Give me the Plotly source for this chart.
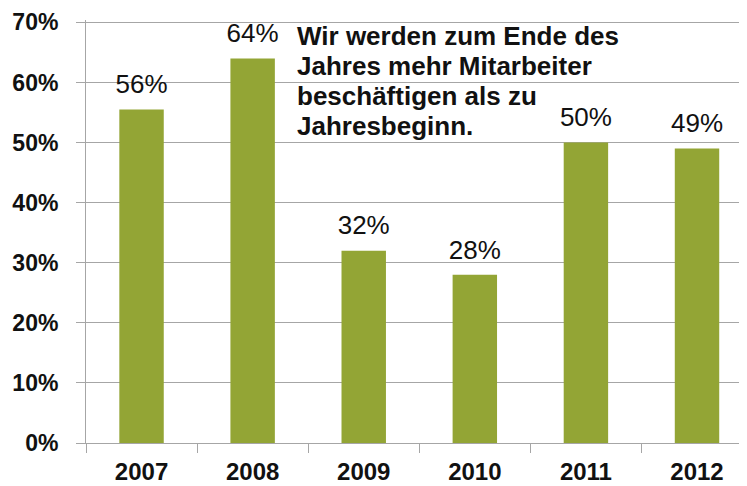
import plotly.graph_objects as go

years = ["2007", "2008", "2009", "2010", "2011", "2012"]
values = [55.5, 64, 32, 28, 50, 49]
labels = ["56%", "64%", "32%", "28%", "50%", "49%"]
y_ticks = [0, 10, 20, 30, 40, 50, 60, 70]
y_tick_text = ["0%", "10%", "20%", "30%", "40%", "50%", "60%", "70%"]
note_lines = ["Wir werden zum Ende des", "Jahres mehr Mitarbeiter",
              "beschäftigen als zu", "Jahresbeginn."]

FONT = "Liberation Sans"
GRID = "#a6a6a6"
fig = go.Figure()
fig.add_trace(go.Bar(x=years, y=values, marker=dict(color="#93A535", line=dict(width=0)),
                     width=0.4, hoverinfo="skip"))
fig.add_trace(go.Scatter(x=years, y=values, mode="markers+text", text=labels,
                         marker=dict(size=14, opacity=0),
                         textposition="top center", cliponaxis=False, hoverinfo="skip",
                         textfont=dict(family=FONT, size=26, color="#111")))

for i, line in enumerate(note_lines):
    fig.add_annotation(xref="paper", yref="paper", x=0.316, y=0.962 - i * 0.071,
                       xanchor="left", yanchor="middle",
                       text="<b>" + line + "</b>", align="left", showarrow=False,
                       font=dict(family=FONT, size=26, color="#111"))

fig.update_layout(
    width=739, height=478,
    margin=dict(l=78, r=0, t=12, b=43),
    paper_bgcolor="white", plot_bgcolor="white",
    showlegend=False, bargap=0.6,
    xaxis=dict(type="category", range=[-0.5, 5.45], showline=True, linecolor=GRID,
               linewidth=1, ticks="outside", tickson="boundaries", ticklen=9,
               tickcolor=GRID, showgrid=False, automargin=False,
               tickvals=years, ticktext=["<b>" + y + "</b>" for y in years],
               tickfont=dict(family=FONT, size=24, color="#111"), ticklabelstandoff=7,
               ticklabeloverflow="allow"),
    yaxis=dict(range=[0, 70.4], tickvals=y_ticks, ticktext=["<b>" + t + "</b>" for t in y_tick_text],
               showline=True, linecolor=GRID, linewidth=1, ticks="outside", ticklen=9,
               tickcolor=GRID, showgrid=True, gridcolor=GRID, gridwidth=1,
               zeroline=False, automargin=False, ticklabeloverflow="allow",
               tickfont=dict(family=FONT, size=23, color="#111"),
               ticklabelstandoff=13),
)
fig.write_html("out.html")
